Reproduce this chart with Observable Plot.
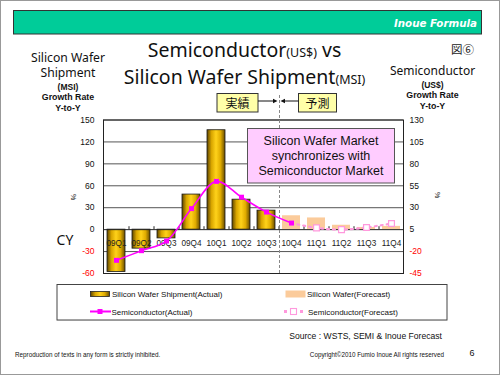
<!DOCTYPE html>
<html><head><meta charset="utf-8">
<script src="https://cdn.jsdelivr.net/npm/d3@7"></script>
<script src="https://cdn.jsdelivr.net/npm/@observablehq/plot@0.6"></script>
<style>
body{margin:0;background:#fff}
#page{position:relative;width:500px;height:375px;overflow:hidden;background:#fff}
#page svg{position:absolute;left:0;top:0}
</style></head><body>
<svg width="0" height="0" style="position:absolute">
<defs>
<linearGradient id="gold" x1="0" y1="0" x2="1" y2="0">
<stop offset="0" stop-color="#5E4500"/>
<stop offset="0.25" stop-color="#D9A600"/>
<stop offset="0.5" stop-color="#FFD21A"/>
<stop offset="0.75" stop-color="#E0AC00"/>
<stop offset="1" stop-color="#6A4E00"/>
</linearGradient>
</defs></svg>
<div id="page"></div>
<script>
// ---- data ----
const quarters = ["09Q1","09Q2","09Q3","09Q4","10Q1","10Q2","10Q3","10Q4","11Q1","11Q2","11Q3","11Q4"];
const waferActualQ = ["09Q1","09Q2","09Q3","09Q4","10Q1","10Q2","10Q3"];
const waferActual = [-58, -26, -12, 48, 136, 41, 26];          // % (left axis)
const waferForecastQ = ["10Q4","11Q1","11Q2","11Q3","11Q4"];
const waferForecast = [19, 16, 6, 3, 4.5];                     // % (left axis)
const semiActualQ = ["09Q1","09Q2","09Q3","09Q4","10Q1","10Q2","10Q3","10Q4"];
const semiActual = [-30, -19, -8, 29, 60, 42, 25, 12.5];        // % (right axis)
const semiForecastQ = ["10Q4","11Q1","11Q2","11Q3","11Q4"];
const semiForecast = [12.5, 7, 5, 7.5, 12];                    // % (right axis)
const leftTicks = [-60, -30, 0, 30, 60, 90, 120, 150];
const rightTicks = [-45, -20, 5, 30, 55, 80, 105, 130];

// right axis (semiconductor) mapped onto left axis units
const toLeft = r => (r - 5) * 30 / 25;

const wa = waferActualQ.map((q, i) => ({q, v: waferActual[i]}));
const wf = waferForecastQ.map((q, i) => ({q, v: waferForecast[i]}));
const sa = semiActualQ.map((q, i) => ({q, v: semiActual[i]}));
const sf = semiForecastQ.map((q, i) => ({q, v: semiForecast[i]}));

const F = "'Liberation Sans', Arial, sans-serif";
const chart = Plot.plot({
  width: 500, height: 375,
  marginLeft: 103, marginRight: 97, marginTop: 119.5, marginBottom: 102,
  style: {background: "transparent", fontFamily: F},
  x: {domain: quarters, paddingInner: 0.3, paddingOuter: 0.15, axis: null},
  y: {domain: [-60, 150], axis: null},
  marks: [
    Plot.ruleY(leftTicks.filter(d => d !== 0), {stroke: "#555", strokeWidth: 1}),
    Plot.barY(wa, {x: "q", y: "v", fill: "url(#gold)", stroke: "#1a1a1a", strokeWidth: 0.8}),
    Plot.barY(wf, {x: "q", y: "v", fill: "#FBCB9B"}),
    Plot.ruleY([0], {stroke: "#222"}),
    Plot.ruleX(quarters.slice(1), {x: d => d, dx: -12.5, y1: 0, y2: 4, stroke: "#222"}),
    Plot.frame({stroke: "#222"}),
    Plot.ruleX(["10Q4"], {x: d => d, dx: -12, y1: -60, y2: 184, stroke: "#888", strokeDasharray: "3,2"}),
    Plot.text(quarters, {x: d => d, y: 0, dy: 14, text: d => d, fontSize: 8.2, fill: "#222"}),
    Plot.text(leftTicks, {y: d => d, text: d => String(d), frameAnchor: "left", textAnchor: "end", dx: -9, fontSize: 8.5, fill: d => d < 0 ? "#FF0000" : "#111"}),
    Plot.text(rightTicks, {y: d => toLeft(d), text: d => String(d), frameAnchor: "right", textAnchor: "start", dx: 6, fontSize: 8.5, fill: d => d < 0 ? "#FF0000" : "#111"}),
    Plot.line(sf, {x: "q", y: d => toLeft(d.v), curve: "catmull-rom", stroke: "#FF99DD", strokeWidth: 2.2, strokeDasharray: "2,4"}),
    Plot.line(sa, {x: "q", y: d => toLeft(d.v), curve: "catmull-rom", stroke: "#FF00FF", strokeWidth: 1.6}),
    Plot.dot(sf.slice(1), {x: "q", y: d => toLeft(d.v), symbol: "square", r: 3.3, fill: "white", stroke: "#FF99DD", strokeWidth: 1.2}),
    Plot.dot(sa, {x: "q", y: d => toLeft(d.v), symbol: "square", r: 2.8, fill: "#FF00FF"})
  ]
});
const page = document.getElementById("page");
page.appendChild(chart);

const N = "'Noto Sans', 'Liberation Sans', sans-serif";
const J = "'Noto Sans CJK JP', sans-serif";
const overlay = `
<svg width="500" height="375" xmlns="http://www.w3.org/2000/svg" style="pointer-events:none">
<rect x="0.5" y="0.5" width="499" height="374" fill="none" stroke="#999"/>
<rect x="13.5" y="10.5" width="468" height="23.5" fill="#00CC99" stroke="#333"/>
<text x="477" y="26.5" text-anchor="end" fill="#fff" font-family="'DejaVu Sans', sans-serif" font-weight="bold" font-style="italic" font-size="10.3">Inoue Formula</text>
<g font-family="${N}" fill="#111">
<text x="244.5" y="57" text-anchor="middle"><tspan font-size="19.5">Semiconductor</tspan><tspan font-size="12.5">(US$)</tspan><tspan font-size="19.5"> vs</tspan></text>
<text x="244.5" y="84" text-anchor="middle"><tspan font-size="19.5">Silicon Wafer Shipment</tspan><tspan font-size="12.5">(MSI)</tspan></text>
<text x="68" y="61.5" text-anchor="middle" font-size="12.2">Silicon Wafer</text>
<text x="68" y="77" text-anchor="middle" font-size="12.2">Shipment</text>
<text x="432.5" y="75" text-anchor="middle" font-size="12">Semiconductor</text>
<text x="65" y="245" text-anchor="middle" font-size="14">CY</text>
</g>
<g font-family="${F}" fill="#111" font-weight="bold" text-anchor="middle">
<text x="68" y="89.5" font-size="8.5">(MSI)</text>
<text x="68" y="100" font-size="8.8">Growth Rate</text>
<text x="68" y="110.5" font-size="8.8">Y-to-Y</text>
<text x="432.5" y="87.5" font-size="8.5">(US$)</text>
<text x="432.5" y="98" font-size="8.8">Growth Rate</text>
<text x="432.5" y="108.5" font-size="8.8">Y-to-Y</text>
</g>
<text x="462.5" y="54" text-anchor="middle" font-family="${J}" font-size="11.5" fill="#222">図⑥</text>
<text transform="translate(71,197) rotate(90)" text-anchor="middle" font-family="${F}" font-size="7" fill="#222">%</text>
<text transform="translate(435,195) rotate(90)" text-anchor="middle" font-family="${F}" font-size="7" fill="#222">%</text>
<rect x="217" y="93.5" width="41" height="18.5" fill="#FFFFA8" stroke="#333"/>
<text x="237.5" y="108" text-anchor="middle" font-family="${J}" font-size="12" fill="#111">実績</text>
<rect x="298.5" y="93.5" width="38" height="18.5" fill="#FFFFA8" stroke="#333"/>
<text x="317.5" y="108" text-anchor="middle" font-family="${J}" font-size="12" fill="#111">予測</text>
<line x1="258" y1="101" x2="274" y2="101" stroke="#111"/>
<path d="M277.5,101 L273,98.8 L273,103.2 Z" fill="#111"/>
<line x1="298.5" y1="101" x2="284" y2="101" stroke="#111"/>
<path d="M280.5,101 L285,98.8 L285,103.2 Z" fill="#111"/>
<rect x="247.5" y="128.5" width="147" height="54.5" fill="#FFCCFF" stroke="#555"/>
<g font-family="${F}" font-size="12.5" fill="#111" text-anchor="middle">
<text x="321" y="144.5">Silicon Wafer Market</text>
<text x="321" y="159.5">synchronizes with</text>
<text x="321" y="174.5">Semiconductor Market</text>
</g>
<rect x="57" y="284.5" width="390" height="35.5" fill="#fff" stroke="#444"/>
<line x1="57" y1="320.5" x2="447" y2="320.5" stroke="#999" stroke-width="1.2"/>
<rect x="90.5" y="291.5" width="19" height="5" fill="url(#gold)" stroke="#222" stroke-width="0.8"/>
<rect x="285.5" y="290.5" width="20" height="7" fill="#FBCB9B"/>
<line x1="90" y1="311.5" x2="111" y2="311.5" stroke="#FF00FF" stroke-width="2"/>
<rect x="97.5" y="309" width="5" height="5" fill="#FF00FF"/>
<rect x="284" y="310" width="3" height="3" fill="#FF99DD"/>
<rect x="290.5" y="308.5" width="6" height="6" fill="#fff" stroke="#FF99DD" stroke-width="1.1"/>
<rect x="300" y="310" width="3" height="3" fill="#FF99DD"/>
<g font-family="${F}" font-size="8" fill="#111">
<text x="112" y="297">Silicon Wafer Shipment(Actual)</text>
<text x="307" y="297">Silicon Wafer(Forecast)</text>
<text x="111.5" y="315">Semiconductor(Actual)</text>
<text x="308" y="315">Semiconductor(Forecast)</text>
<text x="442" y="338.5" text-anchor="end" font-size="8.6">Source : WSTS, SEMI &amp; Inoue Forecast</text>
<text x="15" y="357" font-size="6.3">Reproduction of texts in any form is strictly inhibited.</text>
<text x="444" y="357" text-anchor="end" font-size="6.3">Copyright©2010 Fumio Inoue All rights reserved</text>
<text x="472" y="356" text-anchor="middle" font-size="9">6</text>
</g>
</svg>`;
page.insertAdjacentHTML("beforeend", overlay);
</script>
</body></html>
